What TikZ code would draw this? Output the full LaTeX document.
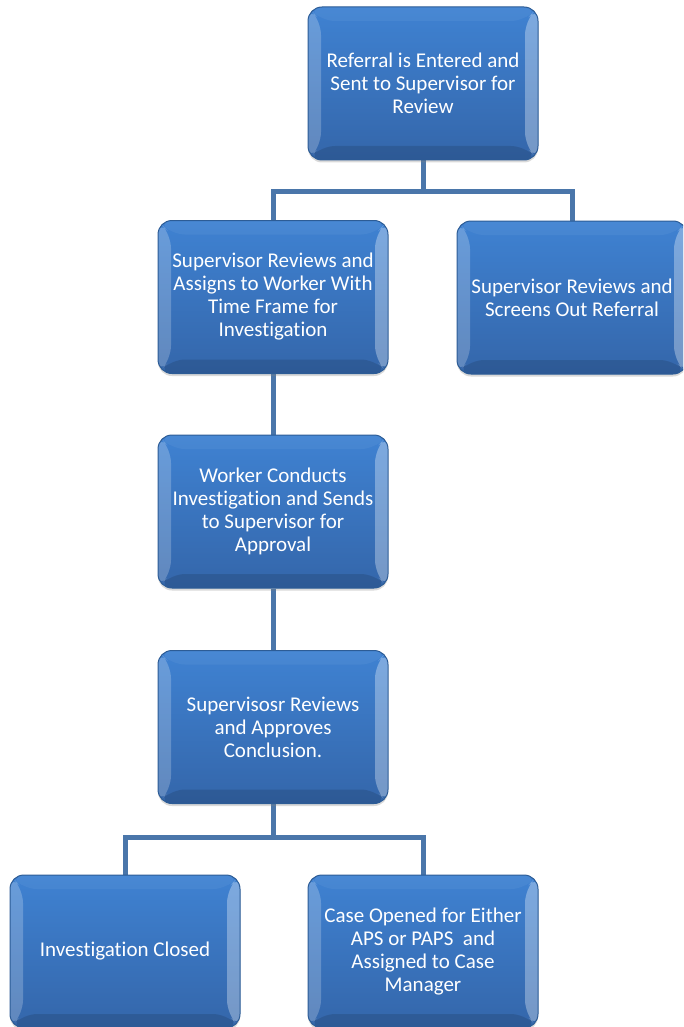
\documentclass[tikz,border=0pt]{standalone}
\usepackage{fontspec}
\setmainfont{Carlito}[Ligatures=NoCommon]
\usetikzlibrary{backgrounds,shadows}
\definecolor{boxtop}{HTML}{3F82D2}
\definecolor{boxbottom}{HTML}{3466AA}
\definecolor{boxline}{HTML}{2C5C96}
\definecolor{linkblue}{HTML}{4A76AA}
\tikzset{
  stepbox/.style={draw=boxline, line width=1pt, rounded corners=14pt,
    minimum width=230pt, minimum height=153pt, inner sep=0pt,
    top color=boxtop, bottom color=boxbottom, text=white, align=center,
    font=\fontsize{21}{23}\selectfont,
    drop shadow={opacity=0.3, shadow xshift=0pt, shadow yshift=-2.5pt},
    path picture={
      % bevel
      \fill[white, opacity=0.22] (path picture bounding box.north west)
        -- ++(13pt,-14pt) -- ([shift={(13pt,14pt)}]path picture bounding box.south west)
        -- (path picture bounding box.south west) -- cycle;
      \fill[white, opacity=0.32] (path picture bounding box.north east)
        -- ++(-13pt,-14pt) -- ([shift={(-13pt,14pt)}]path picture bounding box.south east)
        -- (path picture bounding box.south east) -- cycle;
      \fill[black, opacity=0.12] (path picture bounding box.south west)
        -- ++(13pt,14pt) -- ([shift={(-13pt,14pt)}]path picture bounding box.south east)
        -- (path picture bounding box.south east) -- cycle;
      \fill[white, opacity=0.05] (path picture bounding box.north west)
        -- ++(13pt,-14pt) -- ([shift={(-13pt,-14pt)}]path picture bounding box.north east)
        -- (path picture bounding box.north east) -- cycle;
    }},
  link/.style={draw=linkblue, line width=5pt}
}
\begin{document}
\begin{tikzpicture}[x=1pt, y=-1pt]
    \useasboundingbox (0,0) rectangle (683,1027);
    \clip (0,0) rectangle (683,1027);

    % Boxes
    \node[stepbox] (referral) at (423,83.5) {Referral is Entered and\\Sent to Supervisor for\\Review};
    \node[stepbox] (assign) at (273,297) {Supervisor Reviews and\\Assigns to Worker With\\Time Frame for\\Investigation};
    \node[stepbox] (screen) at (572,297.5) {Supervisor Reviews and\\Screens Out Referral};
    \node[stepbox] (conduct) at (273,511.5) {Worker Conducts\\Investigation and Sends\\to Supervisor for\\Approval};
    \node[stepbox] (approve) at (273,727) {Supervisosr Reviews\\and Approves\\Conclusion.};
    \node[stepbox] (closed) at (125,951.5) {Investigation Closed};
    \node[stepbox] (opened) at (423,951.5) {Case Opened for Either\\APS or PAPS\ \ and\\Assigned to Case\\Manager};

    % Branch points
    \coordinate (split1) at (423,191);
    \coordinate (split2) at (273,837);

    % Connectors
    \begin{scope}[on background layer]
        \draw[link] (referral.south) -- (split1) -| (assign.north);
        \draw[link] (split1) -| (screen.north);
        \draw[link] (assign.south) -- (conduct.north);
        \draw[link] (conduct.south) -- (approve.north);
        \draw[link] (approve.south) -- (split2) -| (closed.north);
        \draw[link] (split2) -| (opened.north);
    \end{scope}
\end{tikzpicture}
\end{document}
